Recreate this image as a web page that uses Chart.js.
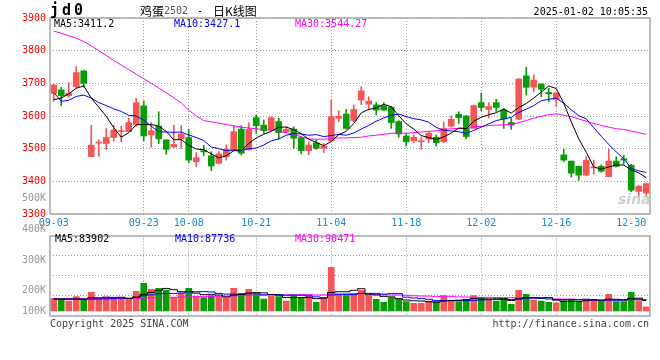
<!DOCTYPE html>
<html>
<head>
<meta charset="utf-8">
<script src="https://cdn.jsdelivr.net/npm/chart.js@4.4.1/dist/chart.umd.min.js"></script>
<style>
html, body { margin: 0; padding: 0; background: #fff; }
#wrap { position: relative; width: 660px; height: 360px; overflow: hidden; font-family: "DejaVu Sans Mono", monospace; }
canvas { position: absolute; left: 0; top: 0; }
.t { position: absolute; white-space: pre; font-size: 10px; line-height: 10px; }
.cjk { font-family: "Noto Sans CJK SC", sans-serif; font-size: 12px; line-height: 14px; }
</style>
</head>
<body>
<div id="wrap">
  <canvas id="priceCanvas" width="660" height="360"></canvas>
  <canvas id="volCanvas" width="660" height="360"></canvas>

  <div class="t" style="left:50px;top:3px;font-size:15px;line-height:15px;font-weight:bold;letter-spacing:3px;">jd0</div>
  <div class="t cjk" style="left:140px;top:4px;">鸡蛋</div>
  <div class="t" style="left:164px;top:6px;color:#555;">2502</div>
  <div class="t" style="left:197px;top:6px;">-</div>
  <div class="t cjk" style="left:213px;top:4px;">日K线图</div>
  <div class="t" style="right:12px;top:7px;">2025-01-02 10:05:35</div>

  <div class="t" style="left:54px;top:19px;color:#000;">MA5:3411.2</div>
  <div class="t" style="left:174px;top:19px;color:#00f;">MA10:3427.1</div>
  <div class="t" style="left:295px;top:19px;color:#f0f;">MA30:3544.27</div>

  <div class="t" style="left:55px;top:234px;color:#000;">MA5:83902</div>
  <div class="t" style="left:175px;top:234px;color:#00f;">MA10:87736</div>
  <div class="t" style="left:295px;top:234px;color:#f0f;">MA30:90471</div>

  <div class="t" style="left:618px;top:192px;font-size:14px;line-height:14px;font-style:italic;font-weight:bold;font-family:'DejaVu Sans',sans-serif;color:#cfcfcf;">sina</div>

  <div class="t" style="left:50px;top:319px;color:#444;">Copyright 2025 SINA.COM</div>
  <div class="t" style="right:11px;top:319px;color:#444;">http://finance.sina.com.cn</div>
</div>

<script>
// trading days, 2024-09-03 .. 2025-01-02
const dates = [
  '09-03','09-04','09-05','09-06','09-09','09-10','09-11','09-12','09-13','09-18','09-19','09-20','09-23','09-24','09-25','09-26','09-27','09-30',
  '10-08','10-09','10-10','10-11','10-14','10-15','10-16','10-17','10-18','10-21','10-22','10-23','10-24','10-25','10-28','10-29','10-30','10-31',
  '11-01','11-04','11-05','11-06','11-07','11-08','11-11','11-12','11-13','11-14','11-15','11-18','11-19','11-20','11-21','11-22','11-25','11-26','11-27','11-28','11-29',
  '12-02','12-03','12-04','12-05','12-06','12-09','12-10','12-11','12-12','12-13','12-16','12-17','12-18','12-19','12-20','12-23','12-24','12-25','12-26','12-27','12-30','12-31',
  '01-02'
];
const tickDates = ['09-03','09-23','10-08','10-21','11-04','11-18','12-02','12-16','12-30'];
const gridDates = ['09-23','10-08','10-21','11-04','11-18','12-02','12-16'];

const opens = [
  3669,3680,3662,3690,3738,3476,3517,3516,3534,3552,3552,3574,3631,3542,3569,3527,3505,3530,3534,3460,
  3494,3478,3455,3476,3496,3560,3496,3595,3572,3557,3583,3552,3560,3534,3494,3518,3501,3524,3593,3606,
  3586,3649,3636,3634,3631,3627,3583,3539,3524,3521,3529,3535,3521,3569,3605,3600,3562,3641,3620,3641,
  3618,3580,3590,3723,3688,3698,3672,3651,3481,3462,3446,3419,3441,3446,3414,3462,3469,3449,3369,3364
];
const closes = [
  3695,3662,3670,3733,3700,3511,3519,3534,3557,3554,3580,3641,3539,3555,3530,3498,3513,3545,3465,3472,
  3490,3447,3484,3498,3552,3486,3559,3570,3555,3595,3549,3559,3532,3494,3511,3501,3508,3598,3599,3562,
  3620,3677,3646,3618,3618,3580,3545,3521,3535,3524,3547,3518,3562,3590,3595,3537,3632,3626,3629,3626,
  3591,3572,3713,3688,3710,3682,3668,3671,3465,3425,3419,3465,3444,3431,3462,3446,3465,3373,3385,3393
];
const highs = [
  3697,3688,3702,3751,3740,3572,3527,3562,3572,3569,3593,3654,3646,3580,3613,3527,3572,3571,3559,3488,
  3510,3491,3491,3511,3570,3570,3580,3603,3588,3598,3593,3567,3567,3537,3521,3527,3516,3649,3616,3620,
  3634,3690,3659,3641,3641,3629,3586,3545,3542,3535,3553,3542,3582,3600,3613,3602,3634,3670,3641,3651,
  3623,3593,3715,3749,3726,3698,3685,3671,3498,3462,3446,3475,3465,3451,3498,3475,3480,3452,3387,3395
];
const lows = [
  3645,3632,3657,3685,3688,3476,3476,3498,3523,3521,3552,3569,3524,3504,3516,3483,3504,3501,3457,3445,
  3478,3433,3453,3465,3496,3481,3496,3547,3547,3555,3529,3549,3501,3484,3481,3498,3488,3521,3583,3559,
  3583,3634,3618,3603,3618,3562,3535,3508,3518,3498,3518,3508,3518,3566,3577,3530,3562,3616,3594,3614,
  3562,3559,3588,3664,3674,3659,3644,3629,3460,3413,3403,3417,3422,3428,3414,3444,3452,3368,3354,3354
];

const ma5 = [
  3650,3655,3668,3685,3692,3655,3627,3599,3564,3535,3549,3573,3574,3574,3569,3553,3527,3528,3510,3499,
  3497,3484,3472,3478,3494,3493,3516,3533,3544,3553,3566,3566,3558,3546,3529,3519,3509,3522,3543,3553,
  3577,3610,3620,3625,3636,3628,3601,3576,3560,3540,3534,3528,3536,3548,3563,3561,3584,3596,3604,3610,
  3621,3609,3626,3638,3655,3673,3692,3684,3639,3582,3530,3489,3444,3437,3444,3450,3450,3435,3426,3411
];
const ma10 = [
  3672,3645,3648,3660,3664,3655,3641,3632,3622,3614,3602,3600,3587,3569,3552,3551,3550,3551,3542,3534,
  3525,3505,3500,3494,3496,3495,3500,3502,3511,3524,3530,3541,3546,3545,3541,3543,3537,3540,3544,3541,
  3548,3560,3571,3584,3594,3602,3606,3598,3592,3588,3581,3565,3556,3554,3552,3547,3556,3566,3576,3586,
  3591,3596,3611,3621,3632,3647,3651,3655,3639,3619,3601,3591,3564,3538,3513,3490,3469,3440,3432,3427
];
const ma30 = [
  3860,3853,3846,3838,3828,3815,3800,3785,3770,3756,3742,3728,3714,3700,3686,3671,3656,3640,3618,3600,
  3586,3582,3578,3574,3570,3566,3563,3561,3559,3557,3552,3549,3544,3536,3530,3529,3529,3531,3533,3533,
  3534,3535,3539,3541,3544,3547,3548,3547,3549,3551,3553,3555,3558,3561,3562,3564,3567,3568,3571,3572,
  3573,3574,3580,3586,3593,3599,3604,3607,3602,3598,3591,3584,3577,3571,3566,3561,3559,3554,3549,3544
];

// volume, thousands of lots
const volumes = [
  100,95,79,114,87,148,95,108,100,95,95,156,220,172,180,167,108,140,180,114,
  106,122,114,106,180,140,172,132,95,119,114,79,122,100,122,69,100,346,127,122,
  127,164,127,93,69,106,95,74,61,61,79,74,122,82,74,93,122,106,87,79,
  95,53,164,132,87,79,69,64,82,93,79,93,93,74,132,74,74,148,82,34
];
const volMa5 = [
  96,95,95,96,95,105,105,110,108,109,99,111,133,148,165,179,169,153,155,142,
  130,132,127,112,126,132,142,146,144,132,126,108,106,107,107,98,103,147,153,153,
  164,177,133,127,116,112,98,87,81,79,74,70,79,84,86,89,99,95,96,97,
  98,84,96,105,106,103,106,86,76,77,77,82,88,86,94,93,89,100,102,84
];
const volMa10 = [
  94,94,93,93,93,94,95,96,98,102,102,108,122,128,137,139,140,143,151,153,
  154,151,140,134,134,131,137,137,128,129,129,125,126,125,120,112,105,127,130,130,
  131,140,140,140,134,138,138,110,104,98,93,84,83,82,83,82,84,87,90,92,
  93,91,96,101,102,100,95,91,90,92,90,94,87,81,86,85,86,94,94,88
];
const volMa30 = [
  98,98,98,98,98,99,99,99,99,99,99,100,102,104,106,108,109,110,112,113,
  114,116,117,118,120,122,124,126,127,128,128,128,129,129,130,127,128,136,136,137,
  138,139,136,133,129,127,127,125,121,119,118,116,117,116,112,111,109,108,108,107,
  106,105,106,108,106,107,106,96,95,94,92,90,89,88,90,89,88,91,92,90
];

const priceTicks = [3300, 3400, 3500, 3600, 3700, 3800, 3900];
const volTickValues = [134, 200, 300, 400, 500];
const volTickLabels = ['100K', '200K', '300K', '400K', '500K'];

const UP = '#f45656';
const DOWN = '#089c08';
const GRID = '#9c9c9c';
const monoFont = { family: 'DejaVu Sans Mono', size: 10 };

const candleColors = closes.map((c, i) => c >= opens[i] ? UP : DOWN);

// panel frame drawn over the plot
const framePlugin = {
  id: 'frame',
  afterDraw(chart) {
    const { ctx, chartArea: a } = chart;
    ctx.save();
    ctx.strokeStyle = '#a6a6a6';
    ctx.lineWidth = 1.5;
    ctx.strokeRect(Math.round(a.left), Math.round(a.top), Math.round(a.right - a.left), Math.round(a.bottom - a.top));
    ctx.restore();
  }
};

function dateGrid(ctx) {
  return gridDates.includes(dates[ctx.index]) ? GRID : 'rgba(0,0,0,0)';
}

function maLine(data, color, yAxis, stepped) {
  return {
    type: 'line', data, borderColor: color, borderWidth: 1,
    pointRadius: 0, tension: 0, stepped: stepped || false, yAxisID: yAxis, order: 0
  };
}

// price panel
new Chart(document.getElementById('priceCanvas'), {
  type: 'bar',
  data: {
    labels: dates,
    datasets: [
      maLine(ma5, '#000000', 'y'),
      maLine(ma10, '#0000ff', 'y'),
      maLine(ma30, '#ff00ff', 'y'),
      {
        data: opens.map((o, i) => [o, closes[i]]),
        backgroundColor: candleColors, barThickness: 6, minBarLength: 1,
        grouped: false, order: 1
      },
      {
        data: lows.map((l, i) => [l, highs[i]]),
        backgroundColor: candleColors, barThickness: 1,
        grouped: false, order: 2
      }
    ]
  },
  options: {
    responsive: false, animation: false, events: [],
    layout: { padding: { left: 0, right: 10, top: 18, bottom: 132 } },
    plugins: { legend: { display: false }, tooltip: { enabled: false } },
    scales: {
      x: {
        offset: true,
        grid: { offset: false, color: dateGrid, drawTicks: false },
        border: { display: false, dash: [1, 2] },
        ticks: {
          autoSkip: false, maxRotation: 0, minRotation: 0, padding: 3,
          color: '#1a88d8', font: monoFont,
          callback: (v, i) => tickDates.includes(dates[i]) ? dates[i] : ''
        },
        afterFit: s => { s.height = 14; }
      },
      y: {
        min: 3300, max: 3900,
        afterBuildTicks: s => { s.ticks = priceTicks.map(v => ({ value: v })); },
        grid: { color: GRID, drawTicks: false },
        border: { display: false, dash: [1, 2] },
        ticks: { color: '#ff0000', font: monoFont, padding: 4, callback: v => String(v) },
        afterFit: s => { s.width = 50; }
      }
    }
  },
  plugins: [framePlugin]
});

// volume panel
new Chart(document.getElementById('volCanvas'), {
  type: 'bar',
  data: {
    labels: dates,
    datasets: [
      maLine(volMa5, '#000000', 'yv', 'middle'),
      maLine(volMa10, '#0000ff', 'yv', 'middle'),
      maLine(volMa30, '#ff00ff', 'yv', 'middle'),
      {
        data: volumes, backgroundColor: candleColors, barThickness: 6,
        yAxisID: 'yv', order: 1
      }
    ]
  },
  options: {
    responsive: false, animation: false, events: [],
    layout: { padding: { left: 0, right: 10, top: 235.5, bottom: 44.5 } },
    plugins: { legend: { display: false }, tooltip: { enabled: false } },
    scales: {
      x: {
        offset: true,
        grid: { offset: false, color: dateGrid, drawTicks: false },
        border: { display: false, dash: [1, 2] },
        ticks: { display: false, autoSkip: false, maxRotation: 0 },
        afterFit: s => { s.height = 0; }
      },
      yv: {
        position: 'left', min: -35.7, max: 599.2,
        afterBuildTicks: s => {
          s.ticks = [0.25, 0.5, 0.75].map(f => ({ value: s.min + f * (s.max - s.min) }));
        },
        grid: { color: GRID, drawTicks: false },
        border: { display: false, dash: [1, 2] },
        ticks: { display: false },
        afterFit: s => { s.width = 0; }
      },
      yl: {
        position: 'left', min: 119.2, max: 379.8,
        afterBuildTicks: s => { s.ticks = volTickValues.map(v => ({ value: v })); },
        grid: { display: false, drawTicks: false },
        border: { display: false },
        ticks: {
          autoSkip: false, color: '#999999', font: monoFont, padding: 4,
          callback: (v, i) => volTickLabels[i]
        },
        afterFit: s => { s.width = 50; }
      }
    }
  },
  plugins: [framePlugin]
});
</script>
</body>
</html>
